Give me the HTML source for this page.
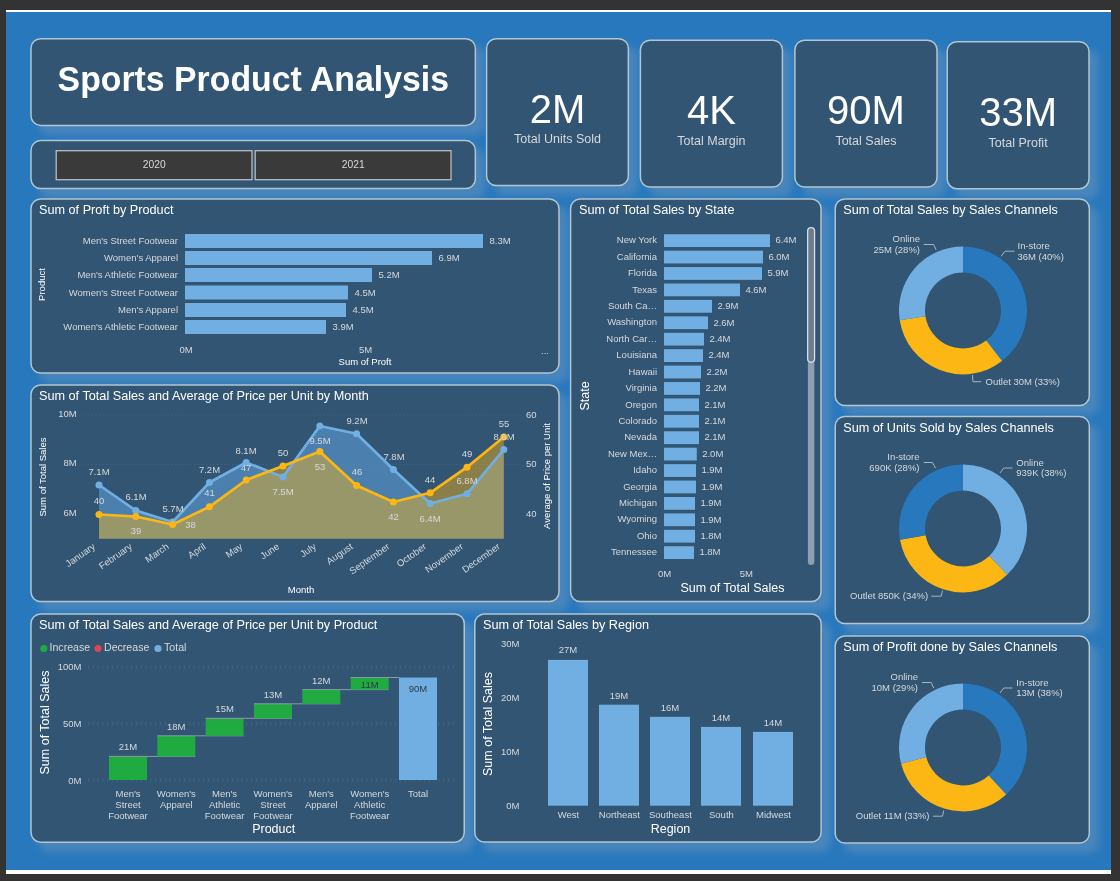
<!DOCTYPE html>
<html lang="en"><head><meta charset="utf-8"><title>Sports Product Analysis</title>
<style>
html,body{margin:0;padding:0;}
body{width:1120px;height:881px;background:#333333;position:relative;overflow:hidden;font-family:"Liberation Sans",Arial,sans-serif;}
#canvas{position:absolute;left:6px;top:10px;width:1105px;height:864px;background:#ffffff;}
#blue{position:absolute;left:6px;top:12px;width:1105px;height:858px;background:#2878BD;}
svg{position:absolute;left:0;top:0;}
text{font-family:"Liberation Sans",Arial,sans-serif;}
.t{fill:#fff;font-size:12.68px;}
.l{fill:#D6D9DC;font-size:9.5px;}
.a{fill:#fff;font-size:9.5px;}
.b{fill:#fff;font-size:12.5px;}
</style></head><body>
<div id="canvas"></div><div id="blue"></div>

<svg width="1120" height="881" viewBox="0 0 1120 881">
<defs><filter id="glow" x="-30%" y="-60%" width="160%" height="220%"><feGaussianBlur in="SourceAlpha" stdDeviation="3.6"/><feOffset dx="9" dy="9" result="o"/><feFlood flood-color="#96A5B9" flood-opacity="0.29"/><feComposite in2="o" operator="in"/></filter></defs>
<rect x="30.20" y="37.85" width="445.95" height="88.35" rx="10" filter="url(#glow)"/>
<rect x="30.20" y="139.80" width="445.95" height="49.60" rx="10" filter="url(#glow)"/>
<rect x="485.80" y="37.85" width="143.35" height="148.45" rx="10" filter="url(#glow)"/>
<rect x="639.60" y="39.40" width="143.60" height="148.40" rx="10" filter="url(#glow)"/>
<rect x="794.10" y="39.45" width="143.70" height="148.35" rx="10" filter="url(#glow)"/>
<rect x="946.40" y="40.90" width="143.40" height="148.60" rx="10" filter="url(#glow)"/>
<rect x="30.20" y="198.10" width="529.60" height="175.70" rx="10" filter="url(#glow)"/>
<rect x="30.20" y="384.20" width="529.60" height="218.10" rx="10" filter="url(#glow)"/>
<rect x="30.20" y="613.20" width="434.85" height="229.80" rx="10" filter="url(#glow)"/>
<rect x="569.80" y="198.10" width="252.00" height="404.20" rx="10" filter="url(#glow)"/>
<rect x="474.00" y="613.20" width="347.90" height="229.70" rx="10" filter="url(#glow)"/>
<rect x="834.40" y="198.20" width="255.70" height="208.10" rx="10" filter="url(#glow)"/>
<rect x="834.40" y="415.70" width="255.70" height="208.60" rx="10" filter="url(#glow)"/>
<rect x="834.40" y="635.30" width="255.70" height="208.50" rx="10" filter="url(#glow)"/>
<rect x="31.00" y="38.65" width="444.35" height="86.75" rx="9.6" fill="#315573" stroke="#B2C6CF" stroke-width="1.5"/>
<rect x="31.00" y="140.60" width="444.35" height="48.00" rx="9.6" fill="#315573" stroke="#B2C6CF" stroke-width="1.5"/>
<rect x="486.60" y="38.65" width="141.75" height="146.85" rx="9.6" fill="#315573" stroke="#B2C6CF" stroke-width="1.5"/>
<rect x="640.40" y="40.20" width="142.00" height="146.80" rx="9.6" fill="#315573" stroke="#B2C6CF" stroke-width="1.5"/>
<rect x="794.90" y="40.25" width="142.10" height="146.75" rx="9.6" fill="#315573" stroke="#B2C6CF" stroke-width="1.5"/>
<rect x="947.20" y="41.70" width="141.80" height="147.00" rx="9.6" fill="#315573" stroke="#B2C6CF" stroke-width="1.5"/>
<rect x="31.00" y="198.90" width="528.00" height="174.10" rx="9.6" fill="#315573" stroke="#B2C6CF" stroke-width="1.5"/>
<rect x="31.00" y="385.00" width="528.00" height="216.50" rx="9.6" fill="#315573" stroke="#B2C6CF" stroke-width="1.5"/>
<rect x="31.00" y="614.00" width="433.25" height="228.20" rx="9.6" fill="#315573" stroke="#B2C6CF" stroke-width="1.5"/>
<rect x="570.60" y="198.90" width="250.40" height="402.60" rx="9.6" fill="#315573" stroke="#B2C6CF" stroke-width="1.5"/>
<rect x="474.80" y="614.00" width="346.30" height="228.10" rx="9.6" fill="#315573" stroke="#B2C6CF" stroke-width="1.5"/>
<rect x="835.20" y="199.00" width="254.10" height="206.50" rx="9.6" fill="#315573" stroke="#B2C6CF" stroke-width="1.5"/>
<rect x="835.20" y="416.50" width="254.10" height="207.00" rx="9.6" fill="#315573" stroke="#B2C6CF" stroke-width="1.5"/>
<rect x="835.20" y="636.10" width="254.10" height="206.90" rx="9.6" fill="#315573" stroke="#B2C6CF" stroke-width="1.5"/>
<rect x="56.2" y="150.7" width="195.8" height="29" fill="#3A3A3A" stroke="#B9BDC0" stroke-width="1.3"/>
<text x="154.2" y="168.4" fill="#D6D9DC" font-size="10.3" text-anchor="middle">2020</text>
<rect x="255.2" y="150.7" width="195.8" height="29" fill="#3A3A3A" stroke="#B9BDC0" stroke-width="1.3"/>
<text x="353.2" y="168.4" fill="#D6D9DC" font-size="10.3" text-anchor="middle">2021</text>
<text transform="translate(57.6 90.6) scale(0.972 1)" fill="#fff" font-size="34.8" font-weight="bold">Sports Product Analysis</text>
<text x="557.5" y="122.7" fill="#fff" font-size="40" text-anchor="middle">2M</text>
<text x="557.5" y="142.8" fill="#D6D9DC" font-size="12.5" text-anchor="middle">Total Units Sold</text>
<text x="711.4" y="124.2" fill="#fff" font-size="40" text-anchor="middle">4K</text>
<text x="711.4" y="145.2" fill="#D6D9DC" font-size="12.5" text-anchor="middle">Total Margin</text>
<text x="866.0" y="124.2" fill="#fff" font-size="40" text-anchor="middle">90M</text>
<text x="866.0" y="145.2" fill="#D6D9DC" font-size="12.5" text-anchor="middle">Total Sales</text>
<text x="1018.1" y="125.7" fill="#fff" font-size="40" text-anchor="middle">33M</text>
<text x="1018.1" y="146.7" fill="#D6D9DC" font-size="12.5" text-anchor="middle">Total Profit</text>
<text x="39.0" y="214.0" class="t" text-anchor="start">Sum of Proft by Product</text>
<rect x="185.00" y="234.00" width="298.00" height="14.00" fill="#71AFE2"/>
<text x="178.0" y="244.0" class="l" text-anchor="end">Men&#39;s Street Footwear</text>
<text x="489.5" y="244.2" class="l" text-anchor="start">8.3M</text>
<rect x="185.00" y="251.00" width="247.00" height="14.00" fill="#71AFE2"/>
<text x="178.0" y="261.0" class="l" text-anchor="end">Women&#39;s Apparel</text>
<text x="438.5" y="261.2" class="l" text-anchor="start">6.9M</text>
<rect x="185.00" y="268.00" width="187.00" height="14.00" fill="#71AFE2"/>
<text x="178.0" y="278.0" class="l" text-anchor="end">Men&#39;s Athletic Footwear</text>
<text x="378.5" y="278.2" class="l" text-anchor="start">5.2M</text>
<rect x="185.00" y="285.50" width="163.00" height="14.00" fill="#71AFE2"/>
<text x="178.0" y="295.5" class="l" text-anchor="end">Women&#39;s Street Footwear</text>
<text x="354.5" y="295.7" class="l" text-anchor="start">4.5M</text>
<rect x="185.00" y="303.00" width="161.00" height="14.00" fill="#71AFE2"/>
<text x="178.0" y="313.0" class="l" text-anchor="end">Men&#39;s Apparel</text>
<text x="352.5" y="313.2" class="l" text-anchor="start">4.5M</text>
<rect x="185.00" y="320.00" width="141.00" height="14.00" fill="#71AFE2"/>
<text x="178.0" y="330.0" class="l" text-anchor="end">Women&#39;s Athletic Footwear</text>
<text x="332.5" y="330.2" class="l" text-anchor="start">3.9M</text>
<text x="186.0" y="352.5" class="l" text-anchor="middle">0M</text>
<text x="365.5" y="352.5" class="l" text-anchor="middle">5M</text>
<text x="365.0" y="365.0" class="a" text-anchor="middle">Sum of Proft</text>
<text transform="translate(45.3 284.5) rotate(-90)" class="a" text-anchor="middle">Product</text>
<text x="545.0" y="354.0" class="l" text-anchor="middle">...</text>
<text x="39.0" y="400.0" class="t" text-anchor="start">Sum of Total Sales and Average of Price per Unit by Month</text>
<line x1="84" x2="520" y1="414.9" y2="414.9" stroke="#A8BACB" stroke-opacity="0.16" stroke-width="1" stroke-dasharray="1.2 2.6"/>
<line x1="84" x2="520" y1="464.6" y2="464.6" stroke="#A8BACB" stroke-opacity="0.16" stroke-width="1" stroke-dasharray="1.2 2.6"/>
<polygon points="99.0,538.8 99.0,485.0 135.8,510.5 172.6,522.0 209.4,482.5 246.2,462.5 283.0,477.0 319.8,426.0 356.6,433.8 393.4,469.5 430.2,503.5 467.0,493.8 503.8,449.5 503.8,538.8" fill="#5B9BD5" fill-opacity="0.6"/>
<polygon points="99.0,538.8 99.0,514.5 135.8,516.5 172.6,524.5 209.4,506.8 246.2,480.0 283.0,466.0 319.8,451.5 356.6,485.5 393.4,502.0 430.2,492.8 467.0,467.2 503.8,437.0 503.8,538.8" fill="#FDB714" fill-opacity="0.44"/>
<polyline points="99.0,485.0 135.8,510.5 172.6,522.0 209.4,482.5 246.2,462.5 283.0,477.0 319.8,426.0 356.6,433.8 393.4,469.5 430.2,503.5 467.0,493.8 503.8,449.5" fill="none" stroke="#71AFE2" stroke-width="2.7" stroke-linejoin="round"/>
<polyline points="99.0,514.5 135.8,516.5 172.6,524.5 209.4,506.8 246.2,480.0 283.0,466.0 319.8,451.5 356.6,485.5 393.4,502.0 430.2,492.8 467.0,467.2 503.8,437.0" fill="none" stroke="#FDB714" stroke-width="2.7" stroke-linejoin="round"/>
<circle cx="99.0" cy="485.0" r="3.5" fill="#71AFE2"/>
<circle cx="135.8" cy="510.5" r="3.5" fill="#71AFE2"/>
<circle cx="172.6" cy="522.0" r="3.5" fill="#71AFE2"/>
<circle cx="209.4" cy="482.5" r="3.5" fill="#71AFE2"/>
<circle cx="246.2" cy="462.5" r="3.5" fill="#71AFE2"/>
<circle cx="283.0" cy="477.0" r="3.5" fill="#71AFE2"/>
<circle cx="319.8" cy="426.0" r="3.5" fill="#71AFE2"/>
<circle cx="356.6" cy="433.8" r="3.5" fill="#71AFE2"/>
<circle cx="393.4" cy="469.5" r="3.5" fill="#71AFE2"/>
<circle cx="430.2" cy="503.5" r="3.5" fill="#71AFE2"/>
<circle cx="467.0" cy="493.8" r="3.5" fill="#71AFE2"/>
<circle cx="503.8" cy="449.5" r="3.5" fill="#71AFE2"/>
<circle cx="99.0" cy="514.5" r="3.5" fill="#FDB714"/>
<circle cx="135.8" cy="516.5" r="3.5" fill="#FDB714"/>
<circle cx="172.6" cy="524.5" r="3.5" fill="#FDB714"/>
<circle cx="209.4" cy="506.8" r="3.5" fill="#FDB714"/>
<circle cx="246.2" cy="480.0" r="3.5" fill="#FDB714"/>
<circle cx="283.0" cy="466.0" r="3.5" fill="#FDB714"/>
<circle cx="319.8" cy="451.5" r="3.5" fill="#FDB714"/>
<circle cx="356.6" cy="485.5" r="3.5" fill="#FDB714"/>
<circle cx="393.4" cy="502.0" r="3.5" fill="#FDB714"/>
<circle cx="430.2" cy="492.8" r="3.5" fill="#FDB714"/>
<circle cx="467.0" cy="467.2" r="3.5" fill="#FDB714"/>
<circle cx="503.8" cy="437.0" r="3.5" fill="#FDB714"/>
<text x="76.7" y="417.3" class="l" text-anchor="end">10M</text>
<text x="76.7" y="466.3" class="l" text-anchor="end">8M</text>
<text x="76.7" y="516.3" class="l" text-anchor="end">6M</text>
<text x="526.0" y="417.5" class="l" text-anchor="start">60</text>
<text x="526.0" y="467.0" class="l" text-anchor="start">50</text>
<text x="526.0" y="517.0" class="l" text-anchor="start">40</text>
<text transform="translate(46.0 477.0) rotate(-90)" class="a" text-anchor="middle">Sum of Total Sales</text>
<text transform="translate(549.5 476) rotate(-90)" class="a" text-anchor="middle">Average of Price per Unit</text>
<text x="301.0" y="593.0" class="a" text-anchor="middle">Month</text>
<text transform="translate(96.0 548.0) rotate(-35)" class="l" text-anchor="end">January</text>
<text transform="translate(132.8 548.0) rotate(-35)" class="l" text-anchor="end">February</text>
<text transform="translate(169.6 548.0) rotate(-35)" class="l" text-anchor="end">March</text>
<text transform="translate(206.4 548.0) rotate(-35)" class="l" text-anchor="end">April</text>
<text transform="translate(243.2 548.0) rotate(-35)" class="l" text-anchor="end">May</text>
<text transform="translate(280.0 548.0) rotate(-35)" class="l" text-anchor="end">June</text>
<text transform="translate(316.8 548.0) rotate(-35)" class="l" text-anchor="end">July</text>
<text transform="translate(353.6 548.0) rotate(-35)" class="l" text-anchor="end">August</text>
<text transform="translate(390.4 548.0) rotate(-35)" class="l" text-anchor="end">September</text>
<text transform="translate(427.2 548.0) rotate(-35)" class="l" text-anchor="end">October</text>
<text transform="translate(464.0 548.0) rotate(-35)" class="l" text-anchor="end">November</text>
<text transform="translate(500.8 548.0) rotate(-35)" class="l" text-anchor="end">December</text>
<text x="99.0" y="475.0" class="l" text-anchor="middle">7.1M</text>
<text x="136.0" y="500.0" class="l" text-anchor="middle">6.1M</text>
<text x="173.0" y="512.0" class="l" text-anchor="middle">5.7M</text>
<text x="209.5" y="473.0" class="l" text-anchor="middle">7.2M</text>
<text x="246.0" y="453.5" class="l" text-anchor="middle">8.1M</text>
<text x="283.0" y="495.0" class="l" text-anchor="middle">7.5M</text>
<text x="320.0" y="444.0" class="l" text-anchor="middle">9.5M</text>
<text x="357.0" y="424.0" class="l" text-anchor="middle">9.2M</text>
<text x="394.0" y="460.0" class="l" text-anchor="middle">7.8M</text>
<text x="430.0" y="522.0" class="l" text-anchor="middle">6.4M</text>
<text x="467.0" y="484.0" class="l" text-anchor="middle">6.8M</text>
<text x="504.0" y="439.5" class="l" text-anchor="middle">8.6M</text>
<text x="99.0" y="504.0" class="l" text-anchor="middle">40</text>
<text x="136.0" y="534.0" class="l" text-anchor="middle">39</text>
<text x="190.5" y="528.0" class="l" text-anchor="middle">38</text>
<text x="209.5" y="496.0" class="l" text-anchor="middle">41</text>
<text x="246.0" y="471.0" class="l" text-anchor="middle">47</text>
<text x="283.0" y="456.0" class="l" text-anchor="middle">50</text>
<text x="320.0" y="469.5" class="l" text-anchor="middle">53</text>
<text x="357.0" y="475.0" class="l" text-anchor="middle">46</text>
<text x="393.5" y="520.0" class="l" text-anchor="middle">42</text>
<text x="430.0" y="482.5" class="l" text-anchor="middle">44</text>
<text x="467.0" y="457.0" class="l" text-anchor="middle">49</text>
<text x="504.0" y="427.0" class="l" text-anchor="middle">55</text>
<text x="39.0" y="629.0" class="t" text-anchor="start">Sum of Total Sales and Average of Price per Unit by Product</text>
<circle cx="43.8" cy="648.5" r="3.6" fill="#1FAB40"/>
<text x="49.5" y="651.2" fill="#D6D9DC" font-size="10.6">Increase</text>
<circle cx="98.0" cy="648.5" r="3.6" fill="#E0444F"/>
<text x="104.0" y="651.2" fill="#D6D9DC" font-size="10.6">Decrease</text>
<circle cx="158.0" cy="648.5" r="3.6" fill="#71AFE2"/>
<text x="164.0" y="651.2" fill="#D6D9DC" font-size="10.6">Total</text>
<line x1="88" x2="456" y1="667.0" y2="667.0" stroke="#9DB2C6" stroke-opacity="0.17" stroke-width="3.5" stroke-dasharray="0.9 3.9"/>
<line x1="88" x2="456" y1="723.6" y2="723.6" stroke="#9DB2C6" stroke-opacity="0.17" stroke-width="3.5" stroke-dasharray="0.9 3.9"/>
<line x1="88" x2="456" y1="780.2" y2="780.2" stroke="#9DB2C6" stroke-opacity="0.17" stroke-width="3.5" stroke-dasharray="0.9 3.9"/>
<text x="81.5" y="669.5" class="l" text-anchor="end">100M</text>
<text x="81.5" y="726.7" class="l" text-anchor="end">50M</text>
<text x="81.5" y="783.5" class="l" text-anchor="end">0M</text>
<text transform="translate(48.8 722.5) rotate(-90)" class="b" text-anchor="middle">Sum of Total Sales</text>
<rect x="109.00" y="756.40" width="38.00" height="23.60" fill="#1FAB40"/>
<line x1="109.0" x2="195.3" y1="756.4" y2="756.4" stroke="#8C9AA8" stroke-width="1"/>
<text x="128.0" y="750.4" class="l" text-anchor="middle">21M</text>
<rect x="157.30" y="735.80" width="38.00" height="20.60" fill="#1FAB40"/>
<line x1="157.3" x2="243.6" y1="735.8" y2="735.8" stroke="#8C9AA8" stroke-width="1"/>
<text x="176.3" y="729.8" class="l" text-anchor="middle">18M</text>
<rect x="205.60" y="718.30" width="38.00" height="17.50" fill="#1FAB40"/>
<line x1="205.6" x2="292.0" y1="718.3" y2="718.3" stroke="#8C9AA8" stroke-width="1"/>
<text x="224.6" y="712.3" class="l" text-anchor="middle">15M</text>
<rect x="254.00" y="703.80" width="38.00" height="14.50" fill="#1FAB40"/>
<line x1="254.0" x2="340.3" y1="703.8" y2="703.8" stroke="#8C9AA8" stroke-width="1"/>
<text x="273.0" y="697.8" class="l" text-anchor="middle">13M</text>
<rect x="302.30" y="689.60" width="38.00" height="14.20" fill="#1FAB40"/>
<line x1="302.3" x2="388.7" y1="689.6" y2="689.6" stroke="#8C9AA8" stroke-width="1"/>
<text x="321.3" y="683.6" class="l" text-anchor="middle">12M</text>
<rect x="350.70" y="677.50" width="38.00" height="12.10" fill="#1FAB40"/>
<line x1="350.7" x2="399.0" y1="677.5" y2="677.5" stroke="#8C9AA8" stroke-width="1"/>
<text x="369.7" y="687.6" font-size="9.5" fill="#2B3A44" text-anchor="middle">11M</text>
<rect x="399.00" y="677.50" width="38.00" height="102.50" fill="#71AFE2"/>
<text x="418" y="692.3" font-size="9.5" fill="#2B3A44" text-anchor="middle">90M</text>
<text x="128.0" y="797.0" class="l" text-anchor="middle">Men&#39;s</text>
<text x="128.0" y="808.0" class="l" text-anchor="middle">Street</text>
<text x="128.0" y="819.2" class="l" text-anchor="middle">Footwear</text>
<text x="176.3" y="797.0" class="l" text-anchor="middle">Women&#39;s</text>
<text x="176.3" y="808.0" class="l" text-anchor="middle">Apparel</text>
<text x="224.6" y="797.0" class="l" text-anchor="middle">Men&#39;s</text>
<text x="224.6" y="808.0" class="l" text-anchor="middle">Athletic</text>
<text x="224.6" y="819.2" class="l" text-anchor="middle">Footwear</text>
<text x="273.0" y="797.0" class="l" text-anchor="middle">Women&#39;s</text>
<text x="273.0" y="808.0" class="l" text-anchor="middle">Street</text>
<text x="273.0" y="819.2" class="l" text-anchor="middle">Footwear</text>
<text x="321.3" y="797.0" class="l" text-anchor="middle">Men&#39;s</text>
<text x="321.3" y="808.0" class="l" text-anchor="middle">Apparel</text>
<text x="369.7" y="797.0" class="l" text-anchor="middle">Women&#39;s</text>
<text x="369.7" y="808.0" class="l" text-anchor="middle">Athletic</text>
<text x="369.7" y="819.2" class="l" text-anchor="middle">Footwear</text>
<text x="418.0" y="797.0" class="l" text-anchor="middle">Total</text>
<text x="273.7" y="833.3" class="b" text-anchor="middle">Product</text>
<text x="579.0" y="214.0" class="t" text-anchor="start">Sum of Total Sales by State</text>
<rect x="664.00" y="234.25" width="106.00" height="12.80" fill="#71AFE2"/>
<text x="657.0" y="243.2" class="l" text-anchor="end">New York</text>
<text x="775.4" y="243.3" class="l" text-anchor="start">6.4M</text>
<rect x="664.00" y="250.67" width="99.00" height="12.80" fill="#71AFE2"/>
<text x="657.0" y="259.7" class="l" text-anchor="end">California</text>
<text x="768.4" y="259.8" class="l" text-anchor="start">6.0M</text>
<rect x="664.00" y="267.09" width="98.00" height="12.80" fill="#71AFE2"/>
<text x="657.0" y="276.1" class="l" text-anchor="end">Florida</text>
<text x="767.4" y="276.2" class="l" text-anchor="start">5.9M</text>
<rect x="664.00" y="283.51" width="76.00" height="12.80" fill="#71AFE2"/>
<text x="657.0" y="292.5" class="l" text-anchor="end">Texas</text>
<text x="745.4" y="292.6" class="l" text-anchor="start">4.6M</text>
<rect x="664.00" y="299.93" width="48.00" height="12.80" fill="#71AFE2"/>
<text x="657.0" y="308.9" class="l" text-anchor="end">South Ca…</text>
<text x="717.4" y="309.0" class="l" text-anchor="start">2.9M</text>
<rect x="664.00" y="316.35" width="44.00" height="12.80" fill="#71AFE2"/>
<text x="657.0" y="325.4" class="l" text-anchor="end">Washington</text>
<text x="713.4" y="325.5" class="l" text-anchor="start">2.6M</text>
<rect x="664.00" y="332.77" width="40.00" height="12.80" fill="#71AFE2"/>
<text x="657.0" y="341.8" class="l" text-anchor="end">North Car…</text>
<text x="709.4" y="341.9" class="l" text-anchor="start">2.4M</text>
<rect x="664.00" y="349.19" width="39.00" height="12.80" fill="#71AFE2"/>
<text x="657.0" y="358.2" class="l" text-anchor="end">Louisiana</text>
<text x="708.4" y="358.3" class="l" text-anchor="start">2.4M</text>
<rect x="664.00" y="365.61" width="37.00" height="12.80" fill="#71AFE2"/>
<text x="657.0" y="374.6" class="l" text-anchor="end">Hawaii</text>
<text x="706.4" y="374.7" class="l" text-anchor="start">2.2M</text>
<rect x="664.00" y="382.03" width="36.00" height="12.80" fill="#71AFE2"/>
<text x="657.0" y="391.0" class="l" text-anchor="end">Virginia</text>
<text x="705.4" y="391.1" class="l" text-anchor="start">2.2M</text>
<rect x="664.00" y="398.45" width="35.00" height="12.80" fill="#71AFE2"/>
<text x="657.0" y="407.5" class="l" text-anchor="end">Oregon</text>
<text x="704.4" y="407.6" class="l" text-anchor="start">2.1M</text>
<rect x="664.00" y="414.87" width="35.00" height="12.80" fill="#71AFE2"/>
<text x="657.0" y="423.9" class="l" text-anchor="end">Colorado</text>
<text x="704.4" y="424.0" class="l" text-anchor="start">2.1M</text>
<rect x="664.00" y="431.29" width="35.00" height="12.80" fill="#71AFE2"/>
<text x="657.0" y="440.3" class="l" text-anchor="end">Nevada</text>
<text x="704.4" y="440.4" class="l" text-anchor="start">2.1M</text>
<rect x="664.00" y="447.71" width="32.80" height="12.80" fill="#71AFE2"/>
<text x="657.0" y="456.7" class="l" text-anchor="end">New Mex…</text>
<text x="702.2" y="456.8" class="l" text-anchor="start">2.0M</text>
<rect x="664.00" y="464.13" width="32.00" height="12.80" fill="#71AFE2"/>
<text x="657.0" y="473.1" class="l" text-anchor="end">Idaho</text>
<text x="701.4" y="473.2" class="l" text-anchor="start">1.9M</text>
<rect x="664.00" y="480.55" width="32.00" height="12.80" fill="#71AFE2"/>
<text x="657.0" y="489.6" class="l" text-anchor="end">Georgia</text>
<text x="701.4" y="489.7" class="l" text-anchor="start">1.9M</text>
<rect x="664.00" y="496.97" width="31.00" height="12.80" fill="#71AFE2"/>
<text x="657.0" y="506.0" class="l" text-anchor="end">Michigan</text>
<text x="700.4" y="506.1" class="l" text-anchor="start">1.9M</text>
<rect x="664.00" y="513.39" width="31.00" height="12.80" fill="#71AFE2"/>
<text x="657.0" y="522.4" class="l" text-anchor="end">Wyoming</text>
<text x="700.4" y="522.5" class="l" text-anchor="start">1.9M</text>
<rect x="664.00" y="529.81" width="31.00" height="12.80" fill="#71AFE2"/>
<text x="657.0" y="538.8" class="l" text-anchor="end">Ohio</text>
<text x="700.4" y="538.9" class="l" text-anchor="start">1.8M</text>
<rect x="664.00" y="546.23" width="30.00" height="12.80" fill="#71AFE2"/>
<text x="657.0" y="555.2" class="l" text-anchor="end">Tennessee</text>
<text x="699.4" y="555.3" class="l" text-anchor="start">1.8M</text>
<text x="664.5" y="577.0" class="l" text-anchor="middle">0M</text>
<text x="746.3" y="577.0" class="l" text-anchor="middle">5M</text>
<text x="732.5" y="592.0" class="b" text-anchor="middle">Sum of Total Sales</text>
<text transform="translate(588.5 396.0) rotate(-90)" class="b" text-anchor="middle">State</text>
<rect x="807.9" y="228" width="6.4" height="337" rx="3.2" fill="#8C9EAF"/>
<rect x="807.65" y="227.65" width="6.9" height="134.6" rx="3.45" fill="#6D7B8B" stroke="#D3DEEA" stroke-width="1.3"/>
<text x="483.0" y="629.0" class="t" text-anchor="start">Sum of Total Sales by Region</text>
<text x="519.5" y="647.3" class="l" text-anchor="end">30M</text>
<text x="519.5" y="700.8" class="l" text-anchor="end">20M</text>
<text x="519.5" y="754.8" class="l" text-anchor="end">10M</text>
<text x="519.5" y="809.3" class="l" text-anchor="end">0M</text>
<text transform="translate(491.8 724.0) rotate(-90)" class="b" text-anchor="middle">Sum of Total Sales</text>
<rect x="548.00" y="659.90" width="40.00" height="145.80" fill="#71AFE2"/>
<text x="568.0" y="653.4" class="l" text-anchor="middle">27M</text>
<text x="568.4" y="818.0" class="l" text-anchor="middle">West</text>
<rect x="599.00" y="704.70" width="40.00" height="101.00" fill="#71AFE2"/>
<text x="619.0" y="699.1" class="l" text-anchor="middle">19M</text>
<text x="619.4" y="818.0" class="l" text-anchor="middle">Northeast</text>
<rect x="650.00" y="716.80" width="40.00" height="88.90" fill="#71AFE2"/>
<text x="670.0" y="711.2" class="l" text-anchor="middle">16M</text>
<text x="670.4" y="818.0" class="l" text-anchor="middle">Southeast</text>
<rect x="701.00" y="726.90" width="40.00" height="78.80" fill="#71AFE2"/>
<text x="721.0" y="721.3" class="l" text-anchor="middle">14M</text>
<text x="721.4" y="818.0" class="l" text-anchor="middle">South</text>
<rect x="753.00" y="731.90" width="40.00" height="73.80" fill="#71AFE2"/>
<text x="773.0" y="726.3" class="l" text-anchor="middle">14M</text>
<text x="773.4" y="818.0" class="l" text-anchor="middle">Midwest</text>
<text x="670.5" y="833.3" class="b" text-anchor="middle">Region</text>
<text x="843.2" y="214.0" class="t" text-anchor="start">Sum of Total Sales by Sales Channels</text>
<path d="M963.00 246.40A64 64 0 0 1 1002.03 361.12L986.18 340.51A38 38 0 0 0 963.00 272.40Z" fill="#2878BD"/>
<path d="M1002.03 361.12A64 64 0 0 1 899.77 320.30L925.46 316.28A38 38 0 0 0 986.18 340.51Z" fill="#FDB714"/>
<path d="M899.77 320.30A64 64 0 0 1 963.00 246.40L963.00 272.40A38 38 0 0 0 925.46 316.28Z" fill="#71AFE2"/>
<text x="920.0" y="242.3" class="l" text-anchor="end">Online</text>
<text x="920.0" y="253.0" class="l" text-anchor="end">25M (28%)</text>
<text x="1017.5" y="249.0" class="l" text-anchor="start">In-store</text>
<text x="1017.5" y="260.3" class="l" text-anchor="start">36M (40%)</text>
<text x="985.5" y="385.3" class="l" text-anchor="start">Outlet 30M (33%)</text>
<polyline points="936.2,250.0 933.7,244.5 923.7,244.5" fill="none" stroke="#A9B4BE" stroke-width="1"/>
<polyline points="1001.2,256.2 1005.0,251.2 1014.5,251.2" fill="none" stroke="#A9B4BE" stroke-width="1"/>
<polyline points="972.5,375.0 973.0,381.7 981.2,381.7" fill="none" stroke="#A9B4BE" stroke-width="1"/>
<text x="843.2" y="432.0" class="t" text-anchor="start">Sum of Units Sold by Sales Channels</text>
<path d="M963.00 464.40A64 64 0 0 1 1007.17 574.72L989.22 555.90A38 38 0 0 0 963.00 490.40Z" fill="#71AFE2"/>
<path d="M1007.17 574.72A64 64 0 0 1 900.01 539.74L925.60 535.13A38 38 0 0 0 989.22 555.90Z" fill="#FDB714"/>
<path d="M900.01 539.74A64 64 0 0 1 963.00 464.40L963.00 490.40A38 38 0 0 0 925.60 535.13Z" fill="#2878BD"/>
<text x="919.5" y="459.6" class="l" text-anchor="end">In-store</text>
<text x="919.5" y="470.7" class="l" text-anchor="end">690K (28%)</text>
<text x="1016.3" y="465.5" class="l" text-anchor="start">Online</text>
<text x="1016.3" y="476.2" class="l" text-anchor="start">939K (38%)</text>
<text x="850.0" y="599.0" class="l" text-anchor="start">Outlet 850K (34%)</text>
<polyline points="935.5,468.0 932.5,462.5 923.7,462.5" fill="none" stroke="#A9B4BE" stroke-width="1"/>
<polyline points="1000.0,473.0 1003.7,468.0 1012.5,468.0" fill="none" stroke="#A9B4BE" stroke-width="1"/>
<polyline points="942.5,590.5 941.2,596.2 931.2,596.2" fill="none" stroke="#A9B4BE" stroke-width="1"/>
<text x="843.2" y="651.0" class="t" text-anchor="start">Sum of Profit done by Sales Channels</text>
<path d="M963.00 683.40A64 64 0 0 1 1006.22 794.60L988.66 775.43A38 38 0 0 0 963.00 709.40Z" fill="#2878BD"/>
<path d="M1006.22 794.60A64 64 0 0 1 901.11 763.71L926.25 757.08A38 38 0 0 0 988.66 775.43Z" fill="#FDB714"/>
<path d="M901.11 763.71A64 64 0 0 1 963.00 683.40L963.00 709.40A38 38 0 0 0 926.25 757.08Z" fill="#71AFE2"/>
<text x="918.0" y="679.6" class="l" text-anchor="end">Online</text>
<text x="918.0" y="690.7" class="l" text-anchor="end">10M (29%)</text>
<text x="1016.3" y="685.5" class="l" text-anchor="start">In-store</text>
<text x="1016.3" y="696.2" class="l" text-anchor="start">13M (38%)</text>
<text x="855.8" y="819.0" class="l" text-anchor="start">Outlet 11M (33%)</text>
<polyline points="933.7,688.0 931.2,682.5 922.0,682.5" fill="none" stroke="#A9B4BE" stroke-width="1"/>
<polyline points="1000.0,693.0 1003.7,688.0 1012.5,688.0" fill="none" stroke="#A9B4BE" stroke-width="1"/>
<polyline points="943.7,810.5 942.5,816.2 933.0,816.2" fill="none" stroke="#A9B4BE" stroke-width="1"/>
</svg></body></html>
